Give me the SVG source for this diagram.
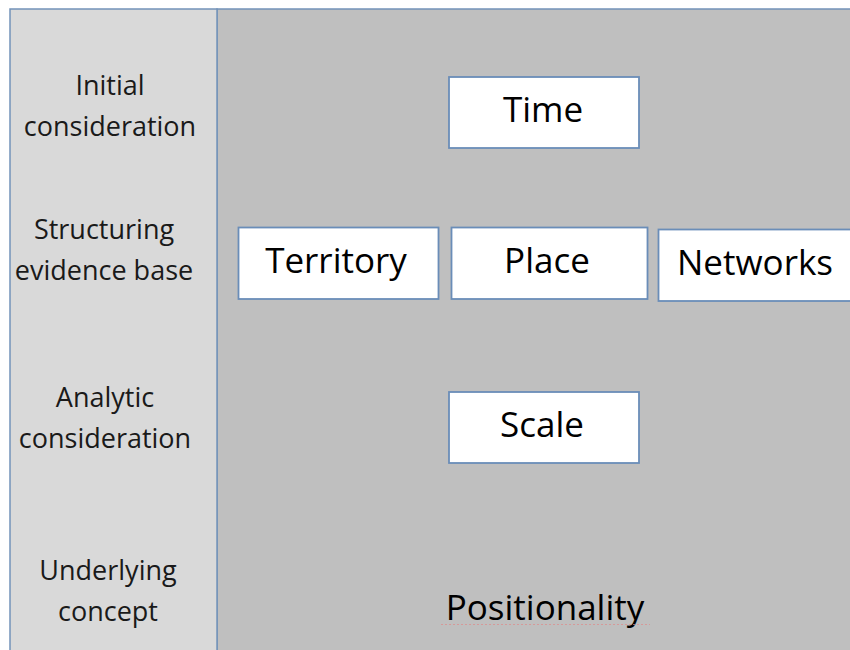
<svg xmlns="http://www.w3.org/2000/svg" width="850" height="650" viewBox="0 0 850 650">
  <style>
    .panel-left { fill: #d9d9d9; stroke: #7393b9; stroke-width: 1.5; }
    .panel-right { fill: #bfbfbf; stroke: #7393b9; stroke-width: 1.5; }
    .box { fill: #ffffff; stroke: #6a8db8; stroke-width: 1.8; }
    .label { font-family: "Open Sans", "Liberation Sans", sans-serif; font-size: 27px; fill: #1a1a1a; text-anchor: middle; }
    .node-text { font-family: "Open Sans", "Liberation Sans", sans-serif; font-size: 35px; fill: #000000; text-anchor: middle; }
    .base-text { font-family: "Open Sans", "Liberation Sans", sans-serif; font-size: 35px; fill: #000000; text-anchor: middle; }
  </style>
  <rect x="0" y="0" width="850" height="650" fill="#ffffff"/>

  <!-- background panels -->
  <rect class="panel-right" x="217" y="9" width="640" height="650"/>
  <rect class="panel-left" x="10" y="9" width="207" height="650"/>

  <!-- row labels -->
  <g id="row-labels">
    <text class="label" x="110" y="95">Initial</text>
    <text class="label" x="110" y="136">consideration</text>
    <text class="label" x="104" y="239">Structuring</text>
    <text class="label" x="104" y="280">evidence base</text>
    <text class="label" x="105" y="407">Analytic</text>
    <text class="label" x="105" y="448">consideration</text>
    <text class="label" x="108" y="580">Underlying</text>
    <text class="label" x="108" y="621">concept</text>
  </g>

  <g id="connectors"></g>

  <g id="time">
    <rect class="box" x="449" y="77" width="190" height="71"/>
    <text class="node-text" x="543" y="122">Time</text>
  </g>
  <g id="territory">
    <rect class="box" x="238.5" y="227.5" width="200" height="71.5"/>
    <text class="node-text" x="336" y="273">Territory</text>
  </g>
  <g id="place">
    <rect class="box" x="451.5" y="227.5" width="196" height="71.5"/>
    <text class="node-text" x="547" y="273">Place</text>
  </g>
  <g id="networks">
    <rect class="box" x="658.5" y="229.5" width="200" height="71.5"/>
    <text class="node-text" x="755" y="275">Networks</text>
  </g>
  <g id="scale">
    <rect class="box" x="449" y="392" width="190" height="71"/>
    <text class="node-text" x="542" y="437">Scale</text>
  </g>
  <g id="positionality">
    <text class="base-text" x="545" y="620">Positionality</text>
    <line x1="441" y1="624.5" x2="650" y2="624.5" stroke="#e08a8a" stroke-width="1" stroke-dasharray="2 2" opacity="0.7"/>
  </g>
</svg>
